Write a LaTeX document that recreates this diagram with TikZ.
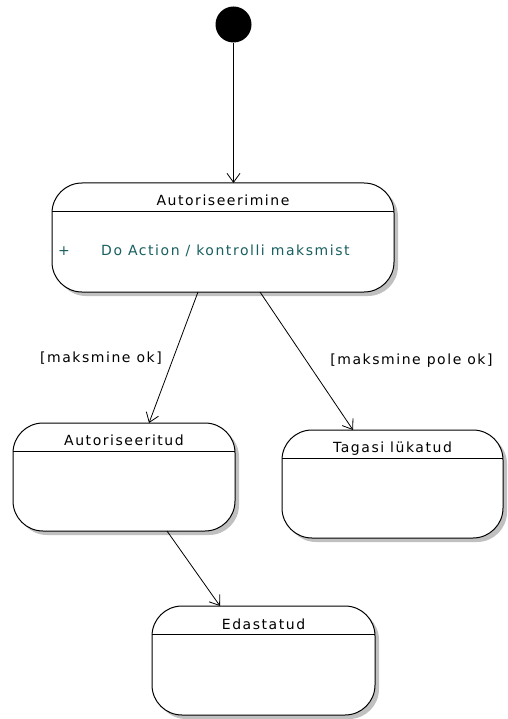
\documentclass[tikz,border=0pt]{standalone}
\usepackage{fontspec}
\setmainfont{DejaVu Sans}[LetterSpace=11]
\usetikzlibrary{arrows.meta,shadows}
\definecolor{actioncol}{RGB}{25,95,95}
\definecolor{shadowcol}{RGB}{192,192,192}
\begin{document}
\begin{tikzpicture}[x=1pt,y=-1pt,
  font=\fontsize{14}{16}\selectfont,
  statebox/.style={draw, line width=1pt, rectangle, rounded corners=30pt,
    inner sep=0pt, outer sep=0pt, fill=white,
    drop shadow={shadow xshift=4pt,shadow yshift=-4pt,fill=shadowcol,opacity=1}},
  divider/.style={line width=0.8pt},
  title/.style={anchor=base, inner sep=0pt},
  trans/.style={line width=0.8pt, -{Straight Barb[length=9pt,width=13pt]}},
  guard/.style={inner sep=0pt}]
\useasboundingbox (0,0) rectangle (507,719);

% initial pseudo-state
\node[circle, fill=black, inner sep=0pt, minimum size=36pt] (init) at (233.5,24.5) {};

% states
\node[statebox, minimum width=342pt, minimum height=109pt] (auth) at (223,237.5) {};
\node[statebox, minimum width=222pt, minimum height=108pt] (ok)   at (124,477) {};
\node[statebox, minimum width=221pt, minimum height=108pt] (rej)  at (392.5,484) {};
\node[statebox, minimum width=223pt, minimum height=109pt] (sent) at (263.5,660.5) {};

% name compartments
\foreach \s in {auth,ok,rej,sent}
  \draw[divider] ([yshift=-28.5pt]\s.north west) -- ([yshift=-28.5pt]\s.north east);

\node[title] (authT) at ([yshift=-23pt]auth.north) {Autoriseerimine};
\node[title] (okT)   at ([yshift=-22pt]ok.north)   {Autoriseeritud};
\node[title] (rejT)  at ([yshift=-22pt]rej.north)  {Tagasi lükatud};
\node[title] (sentT) at ([yshift=-23pt]sent.north) {Edastatud};

% internal activity
\node[anchor=base, inner sep=0pt, text=actioncol] (plus) at (64,255) {+};
\node[anchor=base west, inner sep=0pt, text=actioncol] (act) at (101,255) {Do Action / kontrolli maksmist};

% transitions
\draw[trans] (init) -- (init |- auth.north);
\draw[trans] ([xshift=-25pt]auth.south) -- ([xshift=25pt]ok.north);
\draw[trans] ([xshift=37pt]auth.south) -- ([xshift=-39.5pt]rej.north);
\draw[trans] ([xshift=43pt]ok.south) -- ([xshift=-43.5pt]sent.north);

% guards
\node[guard] (g1) at (101,358) {[maksmine ok]};
\node[guard] (g2) at (411.5,360.5) {[maksmine pole ok]};
\end{tikzpicture}
\end{document}
